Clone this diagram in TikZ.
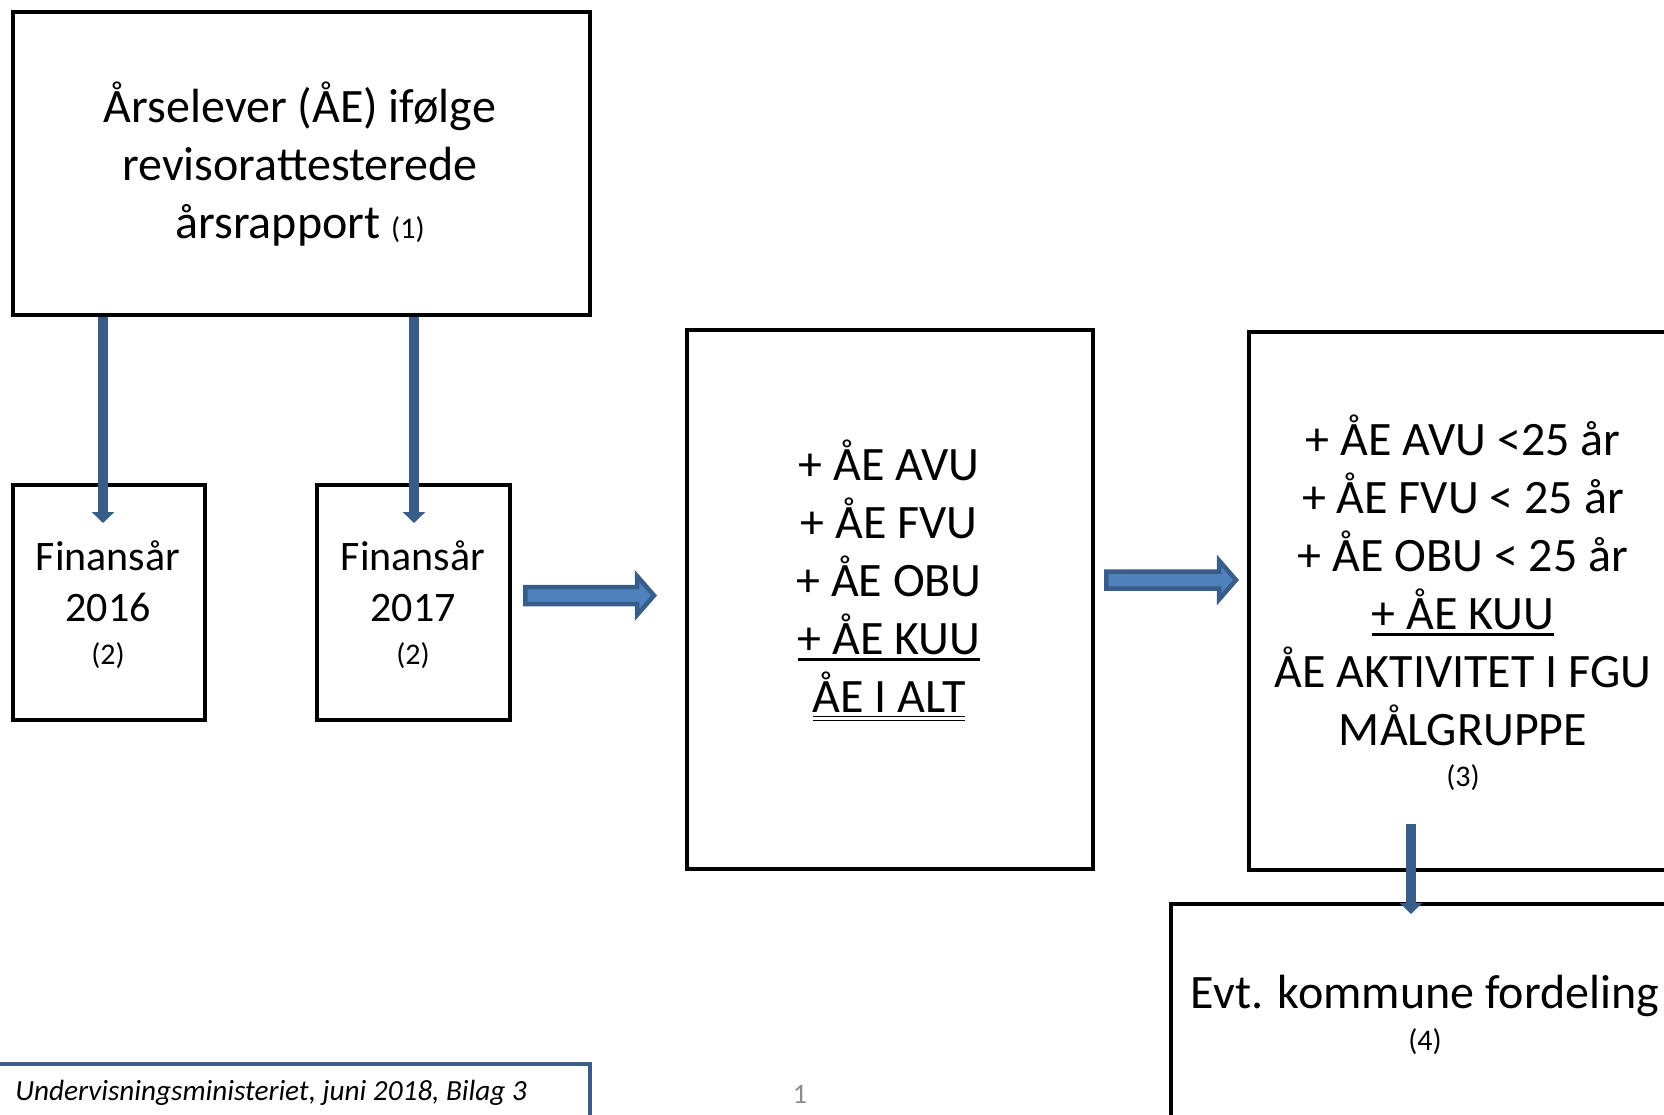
\documentclass[tikz,border=0pt]{standalone}
\usepackage{fontspec}
\setmainfont{Carlito}
\usetikzlibrary{arrows.meta,calc}
\definecolor{arrfill}{HTML}{4F81BD}
\definecolor{arrline}{HTML}{385D8A}
\definecolor{pagegray}{HTML}{8C8C8C}
\tikzset{
  aebox/.style={draw=black, line width=2pt, inner sep=0pt},
  txt/.style={align=center, font=\fontsize{24}{29}\selectfont, inner sep=0pt},
  downarr/.style={draw=arrline, line width=5pt, -{Triangle[width=11pt,length=5.5pt]}},
  blockarr/.style={fill=arrfill, draw=arrline, line width=2.25pt, line join=miter}
}
\newsavebox\ulbox
\newcommand{\nr}[1]{{\fontsize{15}{18}\selectfont #1}}
\newcommand{\ulone}[1]{\sbox\ulbox{#1}\rlap{\vrule height -1.6pt depth 3.3pt width \wd\ulbox}\usebox\ulbox}
\newcommand{\ultwo}[1]{\sbox\ulbox{#1}\rlap{\vrule height -1.8pt depth 2.4pt width \wd\ulbox}\rlap{\vrule height -3.6pt depth 4.2pt width \wd\ulbox}\usebox\ulbox}
\newcommand{\blockarrow}[3]{\draw[blockarr] (#1) ++(0,-8.5) -- ++(#2,0) -- ++(0,-11) -- ++(#3,19.5) -- ++(-#3,19.5) -- ++(0,-11) -- ++(-#2,0) -- cycle;}
\begin{document}
\begin{tikzpicture}[x=0.5pt,y=-0.5pt]
\useasboundingbox (0,0) rectangle (1664,1114);
\clip (0,0) rectangle (1664,1114);

\node[aebox, minimum width=288.5pt, minimum height=151.5pt] (top) at (301.5,163.5) {};
\node[aebox, minimum width=96pt, minimum height=117.25pt] (f16) at (108.75,602.25) {};
\node[aebox, minimum width=96.5pt, minimum height=117.25pt] (f17) at (413.85,602.25) {};
\node[aebox, minimum width=203.25pt, minimum height=269.5pt] (mid) at (889.8,599.5) {};
\node[aebox, minimum width=214.5pt, minimum height=269pt] (rbox) at (1463.5,601) {};
\node[aebox, minimum width=253.5pt, minimum height=130pt] (bot) at (1424.5,1034) {};
\node[draw=arrline, line width=2pt, minimum width=296pt, minimum height=50pt] (footbox) at (294,1114) {};

\node[txt] (toptxt) at (300,164.5) {Årselever (ÅE) ifølge\\revisorattesterede\\årsrapport \nr{(1)}};
\node[txt, font=\fontsize{21}{25.5}\selectfont] (f16txt) at (108,605) {Finansår\\2016\\[-4pt]\nr{(2)}};
\node[txt, font=\fontsize{21}{25.5}\selectfont] (f17txt) at (413,605) {Finansår\\2017\\[-4pt]\nr{(2)}};
\node[txt] (midtxt) at (889,580.5) {+ ÅE AVU\\+ ÅE FVU\\+ ÅE OBU\\\ulone{+ ÅE KUU}\\\ultwo{ÅE I ALT}};
\node[txt] (rtxt) at (1463,603) {+ ÅE AVU <25 år\\+ ÅE FVU < 25 år\\+ ÅE OBU < 25 år\\\ulone{+ ÅE KUU}\\ÅE AKTIVITET I FGU\\MÅLGRUPPE\\[-8.5pt]\nr{(3)}};
\node[txt] (bottxt) at (1425,1015) {Evt. kommune fordeling\\[-7.7pt]\nr{(4)}};
\node[anchor=west, inner sep=0pt, font=\fontsize{14.6}{17}\selectfont\itshape] (foot) at (15,1093) {Undervisningsministeriet, juni 2018, Bilag 3};
\node[inner sep=0pt, font=\fontsize{14}{17}\selectfont, text=pagegray] (pnum) at (800,1094) {1};

\coordinate (d1) at (103,0);
\coordinate (d2) at (414,0);
\coordinate (d3) at (1411,0);
\draw[downarr] (top.south -| d1) -- ($(f16.north -| d1)+(0,40)$);
\draw[downarr] (top.south -| d2) -- ($(f17.north -| d2)+(0,40)$);
\draw[downarr] ($(rbox.south -| d3)+(0,-48)$) -- ($(bot.north -| d3)+(0,12)$);

\coordinate (a1) at (525.25,595.5);
\coordinate (a2) at (1106.25,580);
\blockarrow{a1}{111.75}{17}
\blockarrow{a2}{112.75}{17}
\end{tikzpicture}
\end{document}
